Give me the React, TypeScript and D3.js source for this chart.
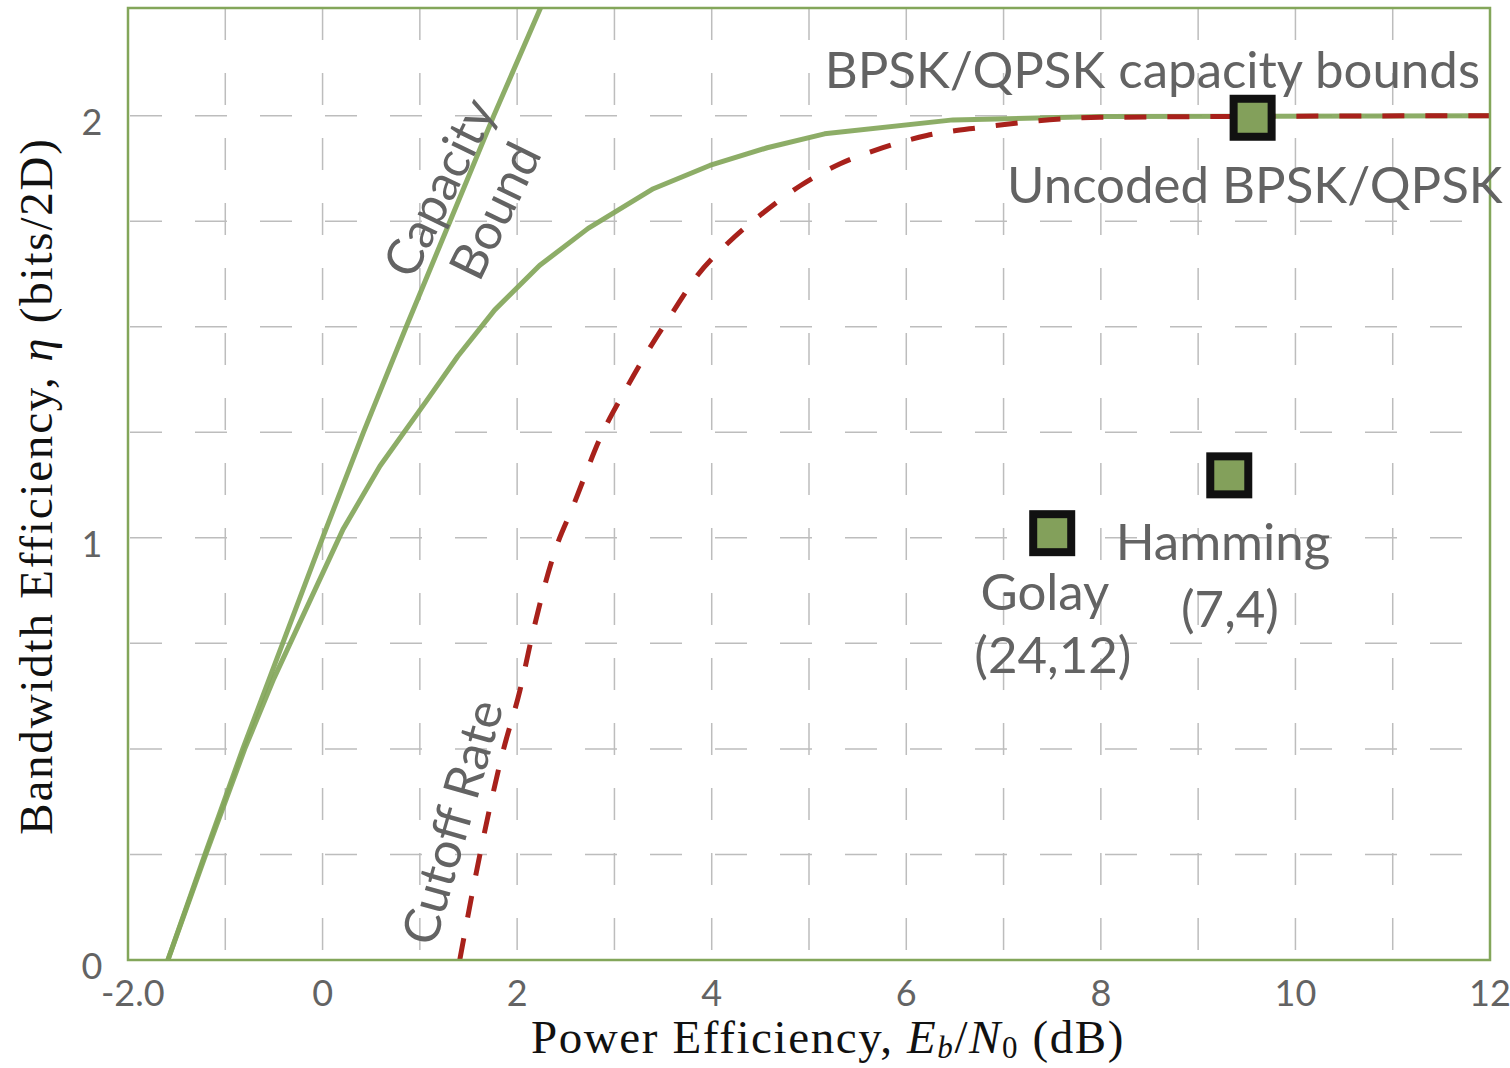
import React from "react";
import * as d3 from "d3";

// Eb/N0 (dB), eta (bits/2D) pairs
const capacityBound: [number, number][] = [
  [-1.59, 0], [-1.21, 0.25], [-0.82, 0.5], [-0.41, 0.75], [0, 1],
  [0.42, 1.25], [0.86, 1.5], [1.31, 1.75], [1.76, 2], [2.24, 2.255],
];
const bpskQpskBound: [number, number][] = [
  [-1.59, 0], [-1.2, 0.25], [-0.8, 0.5], [-0.5, 0.667], [0.21, 1.02],
  [0.59, 1.17], [1.07, 1.325], [1.39, 1.43], [1.77, 1.54], [2.23, 1.645],
  [2.73, 1.733], [3.4, 1.827], [3.98, 1.882], [4.57, 1.924], [5.16, 1.957],
  [6.48, 1.99], [7.99, 1.998], [12, 2],
];
const cutoffRate: [number, number][] = [
  [1.41, 0], [1.62, 0.253], [1.85, 0.49], [2.03, 0.64], [2.16, 0.774],
  [2.39, 0.97], [2.57, 1.072], [2.88, 1.25], [3.11, 1.349], [3.34, 1.441],
  [3.59, 1.531], [3.85, 1.621], [4.17, 1.699], [4.53, 1.77], [4.91, 1.834],
  [5.32, 1.886], [5.76, 1.924], [6.21, 1.953], [6.76, 1.972], [7.99, 1.996],
  [12, 2],
];
const codes = [
  { name: "Uncoded", x: 9.56, y: 1.995 },
  { name: "Hamming", x: 9.32, y: 1.148 },
  { name: "Golay", x: 7.5, y: 1.011 },
];
const xTicks = [-2, 0, 2, 4, 6, 8, 10, 12];
const yTicks = [0, 1, 2];
const xGrid = [-1, 0, 1, 2, 3, 4, 5, 6, 7, 8, 9, 10, 11];
const yGrid = [0.25, 0.5, 0.75, 1, 1.25, 1.5, 1.75, 2];

const GREEN = "#83a65a";
const RED = "#a8211b";
const TEXT = "#636363";
const SANS = "Lato, 'Open Sans', sans-serif";
const SERIF = "'Liberation Serif', 'DejaVu Serif', serif";

export default function App() {
  const x = d3.scaleLinear().domain([-2, 12]).range([128, 1490]);
  const y = d3.scaleLinear().domain([0, 2.255]).range([960, 8]);
  const line = d3
    .line<[number, number]>()
    .x((d) => x(d[0]))
    .y((d) => y(d[1]));
  const smooth = d3
    .line<[number, number]>()
    .x((d) => x(d[0]))
    .y((d) => y(d[1]))
    .curve(d3.curveMonotoneX);

  const x0 = x(-2), x1 = x(12), yTop = y(2.255), yBot = y(0);

  const rotLabel = (txt: string, dx: number, dy: number, ang: number) => (
    <text
      transform={`translate(${x(dx)},${y(dy)}) rotate(${ang})`}
      textAnchor="middle"
      dy="0.36em"
      fontFamily={SANS}
      fontSize={50}
      fill={TEXT}
    >
      {txt}
    </text>
  );

  return (
    <svg width={1510} height={1068} style={{ position: "absolute", left: 0, top: 0 }}>
      <rect width={1510} height={1068} fill="#fff" />
      <defs>
        <clipPath id="plot">
          <rect x={x0} y={yTop} width={x1 - x0} height={yBot - yTop} />
        </clipPath>
      </defs>

      {/* grid */}
      <g stroke="#bdbdbd" strokeWidth={1.5} strokeDasharray="32 33">
        {xGrid.map((g) => (
          <line key={"gx" + g} x1={x(g)} x2={x(g)} y1={yTop} y2={yBot} />
        ))}
        {yGrid.map((g) => (
          <line key={"gy" + g} x1={x0 + 2} x2={x1} y1={y(g)} y2={y(g)} />
        ))}
      </g>

      <g clipPath="url(#plot)" fill="none" strokeLinejoin="round">
        <path d={line(capacityBound) ?? ""} stroke={GREEN} strokeWidth={5} strokeOpacity={0.92} />
        <path d={line(bpskQpskBound) ?? ""} stroke={GREEN} strokeWidth={5} strokeOpacity={0.92} />
        <path d={smooth(cutoffRate) ?? ""} stroke={RED} strokeWidth={5} strokeDasharray="22 21" />
      </g>

      {/* frame */}
      <rect x={x0} y={yTop} width={x1 - x0} height={yBot - yTop} fill="none" stroke={GREEN} strokeWidth={2.5} />

      {/* code points */}
      {codes.map((c) => (
        <rect
          key={c.name}
          x={x(c.x) - 19}
          y={y(c.y) - 19}
          width={38}
          height={38}
          fill="#83a05b"
          stroke="#111"
          strokeWidth={8}
        />
      ))}

      {/* tick labels */}
      <g fontFamily={SANS} fontSize={36} fill={TEXT} textAnchor="middle">
        {xTicks.map((t) =>
          t === -2 ? (
            <text key={"xt" + t} x={101} y={1006} textAnchor="start">
              -2.0
            </text>
          ) : (
            <text key={"xt" + t} x={x(t)} y={1006}>
              {t}
            </text>
          )
        )}
        {yTicks.map((t) => (
          <text key={"yt" + t} x={92} y={y(t) + 19}>
            {t}
          </text>
        ))}
      </g>

      {/* axis titles */}
      <text
        x={828}
        y={1053}
        textAnchor="middle"
        fontFamily={SERIF}
        fontSize={47}
        letterSpacing={1.6}
        fill="#111"
      >
        Power Efficiency,{" "}
        <tspan fontStyle="italic">E</tspan>
        <tspan fontStyle="italic" fontSize={31} dy={5}>b</tspan>
        <tspan dy={-5}>/</tspan>
        <tspan fontStyle="italic">N</tspan>
        <tspan fontSize={31} dy={5}>0</tspan>
        <tspan dy={-5}> (dB)</tspan>
      </text>
      <text
        transform="translate(52,486) rotate(-90)"
        textAnchor="middle"
        fontFamily={SERIF}
        fontSize={47}
        letterSpacing={1.8}
        fill="#111"
      >
        Bandwidth Efficiency, <tspan fontStyle="italic">η</tspan> (bits/2D)
      </text>

      {/* annotations */}
      <g fontFamily={SANS} fontSize={51} fill={TEXT}>
        <text x={x(11.897)} y={y(2.065)} textAnchor="end">BPSK/QPSK capacity bounds</text>
        <text x={x(7.035)} y={y(1.793)}>Uncoded BPSK/QPSK</text>
        <text x={x(9.255)} y={y(0.9475)} textAnchor="middle">Hamming</text>
        <text x={x(9.327)} y={y(0.789)} textAnchor="middle">(7,4)</text>
        <text x={x(7.425)} y={y(0.829)} textAnchor="middle">Golay</text>
        <text x={x(7.507)} y={y(0.68)} textAnchor="middle">(24,12)</text>
      </g>
      {rotLabel("Capacity", 1.196, 1.83, -64)}
      {rotLabel("Bound", 1.77, 1.775, -64)}
      {rotLabel("Cutoff Rate", 1.33, 0.327, -74)}
    </svg>
  );
}
